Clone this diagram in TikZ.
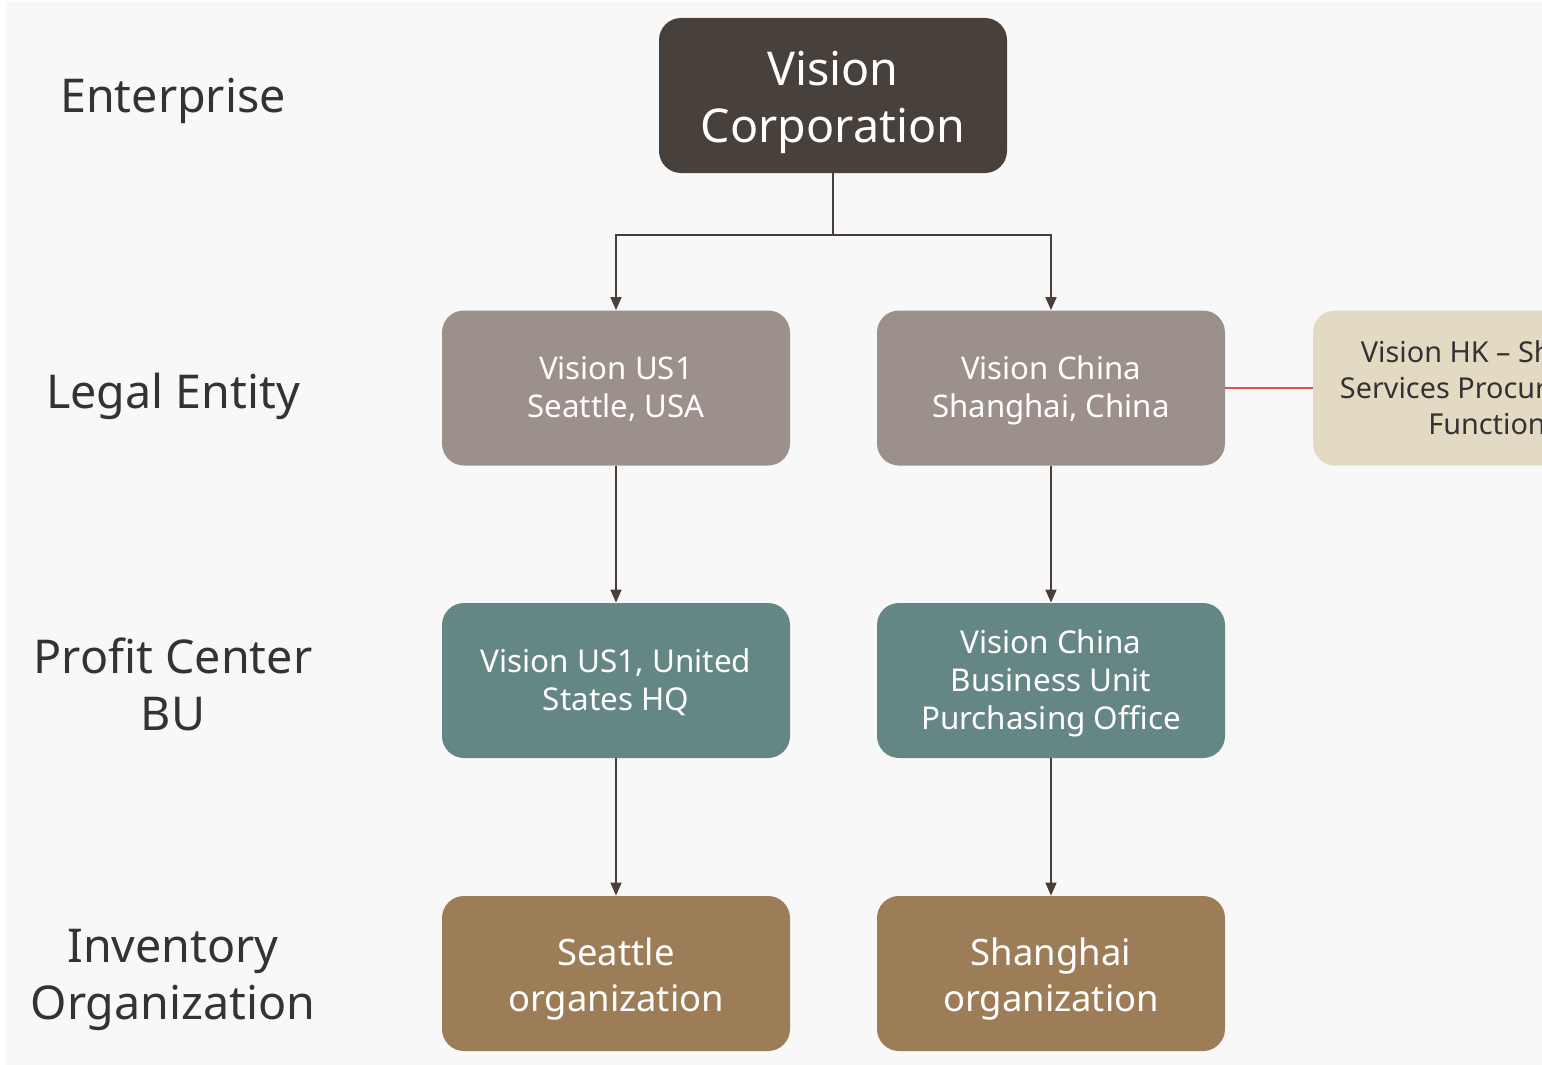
\documentclass[tikz,border=0pt]{standalone}
\usepackage{fontspec}
\setmainfont{Noto Sans}
\usetikzlibrary{arrows.meta}

\definecolor{corpdark}{HTML}{47403B}
\definecolor{legalgray}{HTML}{9B908A}
\definecolor{buteal}{HTML}{648785}
\definecolor{invbrown}{HTML}{9D7C58}
\definecolor{hkbeige}{HTML}{E3DAC3}
\definecolor{linkred}{HTML}{D9534F}
\definecolor{linebrown}{HTML}{4A3F38}
\definecolor{labeltext}{HTML}{333333}
\definecolor{canvas}{HTML}{F8F8F8}

% lowered multi-line text, box size kept
\newcommand{\mv}[2]{\raisebox{-#1}[\height][\depth]{\begin{tabular}{@{}c@{}}#2\end{tabular}}}

\begin{document}
\begin{tikzpicture}[
  x=0.5pt, y=-0.5pt,
  box/.style={rounded corners=11pt, minimum width=174pt, minimum height=77.5pt,
    align=center, text=white, inner sep=0pt},
  corpbox/.style={box, fill=corpdark, font=\fontsize{23.3}{28.5}\selectfont},
  legalbox/.style={box, fill=legalgray, font=\fontsize{15.6}{19}\selectfont},
  bubox/.style={box, fill=buteal, font=\fontsize{15.7}{19}\selectfont},
  invbox/.style={box, fill=invbrown, font=\fontsize{18.2}{23}\selectfont},
  hkbox/.style={box, fill=hkbeige, text=labeltext, font=\fontsize{14.4}{18}\selectfont},
  level/.style={align=center, text=labeltext, font=\fontsize{23.3}{28.5}\selectfont},
  feed/.style={-{Triangle[length=6.5pt,width=5.5pt]}, line width=0.8pt, linebrown},
  tie/.style={-, line width=0.6pt, linkred},
]

\def\CL{616}    % left column
\def\CR{1051}   % right column

% canvas
\useasboundingbox (0,0) rectangle (1542,1065);
\clip (0,0) rectangle (1542,1065);
\fill[canvas] (6,2) rectangle (1542,1065);

% ── level labels ──
\node[level] (lent) at (173,101) {Enterprise};
\node[level] (llen) at (173,396) {Legal Entity};
\node[level] (lpcb) at (173,684) {Profit Center\\BU};
\node[level] (linv) at (173,980) {Inventory\\Organization};

% ── boxes ──
\node[corpbox] (corp) at (833,95.5) {\mv{3.5pt}{Vision\\Corporation}};

\node[legalbox] (us1) at (\CL,388) {\mv{1.5pt}{Vision US1\\Seattle, USA}};
\node[legalbox] (chn) at (\CR,388) {\mv{1.5pt}{Vision China\\Shanghai, China}};
\node[hkbox] (hk) at (1487,388) {Vision HK -- Shared\\Services Procurement\\Function};

\node[bubox] (buus) at (\CL,680.5) {\mv{1.5pt}{Vision US1, United\\States HQ}};
\node[bubox] (buch) at (\CR,680.5) {\mv{1.5pt}{Vision China\\Business Unit\\Purchasing Office}};

\node[invbox] (ivus) at (\CL,973.5) {\mv{3pt}{Seattle\\organization}};
\node[invbox] (ivch) at (\CR,973.5) {\mv{3pt}{Shanghai\\organization}};

% ── connectors ──
\coordinate (split) at (833,235);
\draw[feed] (corp.south) -- (split) -| (us1.north);
\draw[feed] (split) -| (chn.north);
\draw[tie] (chn.east) -- (hk.west);

\foreach \a/\b in {us1/buus,chn/buch,buus/ivus,buch/ivch}
  \draw[feed] (\a.south) -- (\b.north);

\end{tikzpicture}
\end{document}
